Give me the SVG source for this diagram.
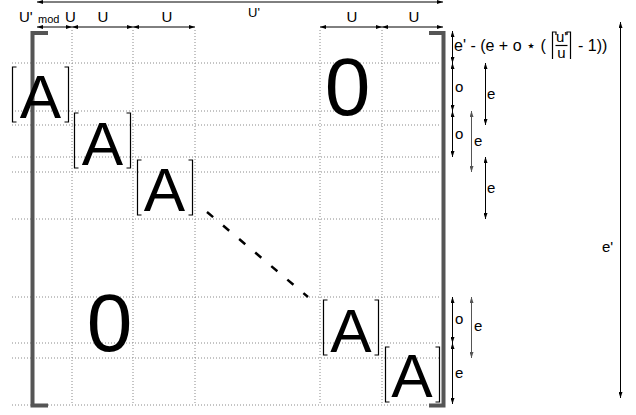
<svg xmlns="http://www.w3.org/2000/svg" width="636" height="415" viewBox="0 0 636 415">
<style>
text{font-family:"Liberation Sans",Arial,sans-serif;fill:#000}
.lbl{font-size:15px}
.fm{font-size:16px}
.big{font-size:62px;text-anchor:middle}
.zero{font-size:82px;text-anchor:middle}
.grid{stroke:#8a8a8a;stroke-width:1;stroke-dasharray:1 2;fill:none}
.brk{stroke:#000;stroke-width:1.2;fill:none}
.mat{stroke:#555;stroke-width:4;fill:none}
.arr{stroke:#000;stroke-width:1;fill:none;marker-start:url(#ah);marker-end:url(#ah)}
.arr2{stroke:#555;stroke-width:1;fill:none;marker-start:url(#ah2);marker-end:url(#ah2)}
</style>
<defs>
<marker id="ah" viewBox="0 0 6 4" refX="6" refY="2" markerWidth="6" markerHeight="4" markerUnits="userSpaceOnUse" orient="auto-start-reverse"><path d="M0,0 L6,2 L0,4 z" fill="#000"/></marker>
<marker id="ah2" viewBox="0 0 6 4" refX="6" refY="2" markerWidth="6" markerHeight="4" markerUnits="userSpaceOnUse" orient="auto-start-reverse"><path d="M0,0 L6,2 L0,4 z" fill="#555"/></marker>
</defs>
<rect width="636" height="415" fill="#fff"/>
<g id="grid">
<path class="grid" d="M12,63H440M12,111H440M12,125H440M12,157H440M12,172H440M12,219H440M12,297H440M12,343H440M12,358H440M12,405H440"/>
<path class="grid" d="M72,30V405M133,30V405M195,30V405M320,30V405M382,30V405"/>
</g>
<g id="matrix-brackets">
<path class="mat" d="M48,33H32.5V405.5H48"/>
<path class="mat" d="M429,33H443.5V405.5H429"/>
</g>
<g id="block1">
<path class="brk" d="M16.5,67H12.5V122H16.5M64.5,67H68.5V122H64.5"/>
<text class="big" x="40.5" y="118">A</text>
</g>
<g id="block2">
<path class="brk" d="M78.5,113H74.5V168H78.5M126.5,113H130.5V168H126.5"/>
<text class="big" x="102.5" y="165">A</text>
</g>
<g id="block3">
<path class="brk" d="M141.5,160H137.5V215H141.5M188.5,160H192.5V215H188.5"/>
<text class="big" x="164.5" y="211">A</text>
</g>
<g id="block4">
<path class="brk" d="M327.5,300H323.5V355H327.5M374.5,300H378.5V355H374.5"/>
<text class="big" x="351" y="352">A</text>
</g>
<g id="block5">
<path class="brk" d="M389.5,347H385.5V402H389.5M435.5,347H439.5V402H435.5"/>
<text class="big" x="412" y="397">A</text>
</g>
<g id="zero-top"><text class="zero" x="347.5" y="115">0</text></g>
<g id="zero-bottom"><text class="zero" x="109.5" y="351">0</text></g>
<g id="connectors">
<line class="arr" x1="37" y1="2" x2="443" y2="2"/>
<line class="arr" x1="37" y1="27" x2="72" y2="27"/>
<line class="arr" x1="72" y1="27" x2="133" y2="27"/>
<line class="arr" x1="133" y1="27" x2="195" y2="27"/>
<line class="arr" x1="320" y1="27" x2="382" y2="27"/>
<line class="arr" x1="382" y1="27" x2="443" y2="27"/>
<line class="arr" x1="452.5" y1="31" x2="452.5" y2="63"/>
<line class="arr" x1="452.5" y1="63" x2="452.5" y2="111"/>
<line class="arr" x1="452.5" y1="111" x2="452.5" y2="157"/>
<line class="arr" x1="485.5" y1="63" x2="485.5" y2="125"/>
<line class="arr2" x1="471.5" y1="111" x2="471.5" y2="172"/>
<line class="arr" x1="485.5" y1="157" x2="485.5" y2="219"/>
<line class="arr" x1="452.5" y1="297" x2="452.5" y2="343"/>
<line class="arr2" x1="471.5" y1="297" x2="471.5" y2="358"/>
<line class="arr" x1="452.5" y1="343" x2="452.5" y2="404"/>
<line class="arr" x1="620.5" y1="22" x2="620.5" y2="398"/>
<line x1="207" y1="212" x2="308" y2="297" stroke="#000" stroke-width="2.5" stroke-dasharray="8 13"/>
</g>
<g id="labels">
<text x="248" y="17" font-size="13">U'</text>
<text class="lbl" x="19" y="22">U'</text>
<text x="38" y="23" font-size="11">mod</text>
<text class="lbl" x="65" y="22">U</text>
<text class="lbl" x="103" y="22" text-anchor="middle">U</text>
<text class="lbl" x="167" y="22" text-anchor="middle">U</text>
<text class="lbl" x="352" y="22" text-anchor="middle">U</text>
<text class="lbl" x="414" y="22" text-anchor="middle">U</text>
<text class="fm" x="454" y="51">e' - (e + o ⋆ (</text>
<path class="brk" d="M556,35V32H552.5V59"/>
<text x="561.5" y="42" font-size="15" text-anchor="middle">u'</text>
<line x1="555.5" y1="45.5" x2="567.5" y2="45.5" stroke="#000" stroke-width="1.2"/>
<text x="561.5" y="58" font-size="15" text-anchor="middle">u</text>
<path class="brk" d="M567,35V32H570.5V59"/>
<text class="fm" x="578" y="51">- 1))</text>
<text class="lbl" x="455" y="92">o</text>
<text class="lbl" x="455" y="139">o</text>
<text class="lbl" x="487" y="99">e</text>
<text class="lbl" x="474" y="146">e</text>
<text class="lbl" x="487" y="193">e</text>
<text class="lbl" x="455" y="324">o</text>
<text class="lbl" x="474" y="331">e</text>
<text class="lbl" x="455" y="378">e</text>
<text class="lbl" x="602" y="252">e'</text>
</g>
</svg>
